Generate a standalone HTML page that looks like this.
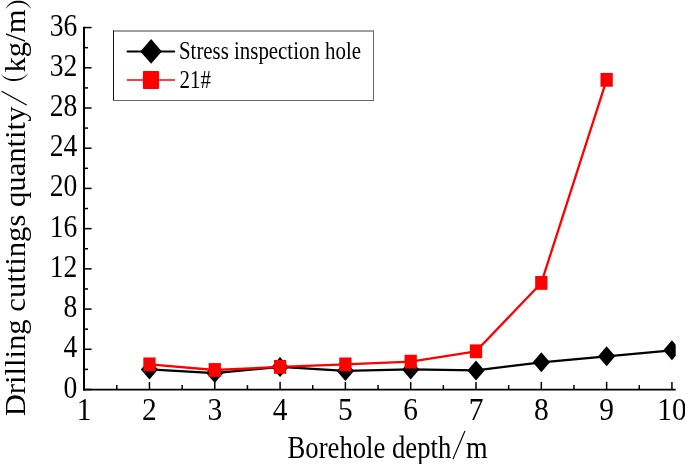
<!DOCTYPE html>
<html><head><meta charset="utf-8"><style>
html,body{margin:0;padding:0;background:#fff;overflow:hidden}
svg{display:block;will-change:transform}
</style></head><body>
<svg width="685" height="464" viewBox="0 0 685 464">
<rect width="685" height="464" fill="#fff"/>
<line x1="84.0" y1="26.76" x2="84.0" y2="390.45" stroke="#000" stroke-width="2"/>
<line x1="83.0" y1="389.65" x2="675.7" y2="389.65" stroke="#000" stroke-width="1.6"/>
<line x1="84.15" y1="389.65" x2="84.15" y2="381.90" stroke="#000" stroke-width="1.5"/>
<line x1="149.46" y1="389.65" x2="149.46" y2="381.90" stroke="#000" stroke-width="1.5"/>
<line x1="214.77" y1="389.65" x2="214.77" y2="381.90" stroke="#000" stroke-width="1.5"/>
<line x1="280.08" y1="389.65" x2="280.08" y2="381.90" stroke="#000" stroke-width="1.5"/>
<line x1="345.39" y1="389.65" x2="345.39" y2="381.90" stroke="#000" stroke-width="1.5"/>
<line x1="410.70" y1="389.65" x2="410.70" y2="381.90" stroke="#000" stroke-width="1.5"/>
<line x1="476.01" y1="389.65" x2="476.01" y2="381.90" stroke="#000" stroke-width="1.5"/>
<line x1="541.32" y1="389.65" x2="541.32" y2="381.90" stroke="#000" stroke-width="1.5"/>
<line x1="606.63" y1="389.65" x2="606.63" y2="381.90" stroke="#000" stroke-width="1.5"/>
<line x1="671.94" y1="389.65" x2="671.94" y2="381.90" stroke="#000" stroke-width="1.5"/>
<line x1="116.81" y1="389.65" x2="116.81" y2="385.10" stroke="#000" stroke-width="1.5"/>
<line x1="182.12" y1="389.65" x2="182.12" y2="385.10" stroke="#000" stroke-width="1.5"/>
<line x1="247.43" y1="389.65" x2="247.43" y2="385.10" stroke="#000" stroke-width="1.5"/>
<line x1="312.74" y1="389.65" x2="312.74" y2="385.10" stroke="#000" stroke-width="1.5"/>
<line x1="378.04" y1="389.65" x2="378.04" y2="385.10" stroke="#000" stroke-width="1.5"/>
<line x1="443.36" y1="389.65" x2="443.36" y2="385.10" stroke="#000" stroke-width="1.5"/>
<line x1="508.66" y1="389.65" x2="508.66" y2="385.10" stroke="#000" stroke-width="1.5"/>
<line x1="573.98" y1="389.65" x2="573.98" y2="385.10" stroke="#000" stroke-width="1.5"/>
<line x1="639.28" y1="389.65" x2="639.28" y2="385.10" stroke="#000" stroke-width="1.5"/>
<line x1="84.0" y1="389.50" x2="91.60" y2="389.50" stroke="#000" stroke-width="1.5"/>
<line x1="84.0" y1="349.28" x2="91.60" y2="349.28" stroke="#000" stroke-width="1.5"/>
<line x1="84.0" y1="309.07" x2="91.60" y2="309.07" stroke="#000" stroke-width="1.5"/>
<line x1="84.0" y1="268.85" x2="91.60" y2="268.85" stroke="#000" stroke-width="1.5"/>
<line x1="84.0" y1="228.64" x2="91.60" y2="228.64" stroke="#000" stroke-width="1.5"/>
<line x1="84.0" y1="188.42" x2="91.60" y2="188.42" stroke="#000" stroke-width="1.5"/>
<line x1="84.0" y1="148.20" x2="91.60" y2="148.20" stroke="#000" stroke-width="1.5"/>
<line x1="84.0" y1="107.99" x2="91.60" y2="107.99" stroke="#000" stroke-width="1.5"/>
<line x1="84.0" y1="67.77" x2="91.60" y2="67.77" stroke="#000" stroke-width="1.5"/>
<line x1="84.0" y1="27.56" x2="91.60" y2="27.56" stroke="#000" stroke-width="1.5"/>
<line x1="84.0" y1="369.39" x2="88.00" y2="369.39" stroke="#000" stroke-width="1.5"/>
<line x1="84.0" y1="329.18" x2="88.00" y2="329.18" stroke="#000" stroke-width="1.5"/>
<line x1="84.0" y1="288.96" x2="88.00" y2="288.96" stroke="#000" stroke-width="1.5"/>
<line x1="84.0" y1="248.74" x2="88.00" y2="248.74" stroke="#000" stroke-width="1.5"/>
<line x1="84.0" y1="208.53" x2="88.00" y2="208.53" stroke="#000" stroke-width="1.5"/>
<line x1="84.0" y1="168.31" x2="88.00" y2="168.31" stroke="#000" stroke-width="1.5"/>
<line x1="84.0" y1="128.10" x2="88.00" y2="128.10" stroke="#000" stroke-width="1.5"/>
<line x1="84.0" y1="87.88" x2="88.00" y2="87.88" stroke="#000" stroke-width="1.5"/>
<line x1="84.0" y1="47.66" x2="88.00" y2="47.66" stroke="#000" stroke-width="1.5"/>
<defs><clipPath id="pc"><rect x="80" y="0" width="595.7" height="395"/></clipPath></defs>
<g clip-path="url(#pc)">
<polyline points="149.46,369.39 214.77,373.11 280.08,366.88 345.39,370.90 410.70,369.39 476.01,370.40 541.32,362.35 606.63,356.32 671.94,350.29" fill="none" stroke="#000" stroke-width="2.2" stroke-linejoin="round"/>
<path d="M149.46 359.39L158.06 369.39L149.46 379.39L140.86 369.39Z" fill="#000"/>
<path d="M214.77 363.11L223.37 373.11L214.77 383.11L206.17 373.11Z" fill="#000"/>
<path d="M280.08 356.88L288.68 366.88L280.08 376.88L271.48 366.88Z" fill="#000"/>
<path d="M345.39 360.90L353.99 370.90L345.39 380.90L336.79 370.90Z" fill="#000"/>
<path d="M410.70 359.39L419.30 369.39L410.70 379.39L402.10 369.39Z" fill="#000"/>
<path d="M476.01 360.40L484.61 370.40L476.01 380.40L467.41 370.40Z" fill="#000"/>
<path d="M541.32 352.35L549.92 362.35L541.32 372.35L532.72 362.35Z" fill="#000"/>
<path d="M606.63 346.32L615.23 356.32L606.63 366.32L598.03 356.32Z" fill="#000"/>
<path d="M671.94 340.29L680.54 350.29L671.94 360.29L663.34 350.29Z" fill="#000"/>
<polyline points="149.46,364.37 214.77,370.00 280.08,366.88 345.39,364.37 410.70,361.65 476.01,351.29 541.32,282.93 606.63,79.84" fill="none" stroke="#f00" stroke-width="2.3" stroke-linejoin="round"/>
<rect x="143.31" y="357.47" width="12.30" height="13.80" fill="#f00"/>
<rect x="208.62" y="363.10" width="12.30" height="13.80" fill="#f00"/>
<rect x="273.93" y="359.98" width="12.30" height="13.80" fill="#f00"/>
<rect x="339.24" y="357.47" width="12.30" height="13.80" fill="#f00"/>
<rect x="404.55" y="354.75" width="12.30" height="13.80" fill="#f00"/>
<rect x="469.86" y="344.39" width="12.30" height="13.80" fill="#f00"/>
<rect x="535.17" y="276.03" width="12.30" height="13.80" fill="#f00"/>
<rect x="600.48" y="72.94" width="12.30" height="13.80" fill="#f00"/>
</g>
<line x1="113.5" y1="30.5" x2="113.5" y2="100.5" stroke="#111" stroke-width="1"/>
<line x1="113" y1="31" x2="373.5" y2="31" stroke="#000" stroke-width="1" opacity="0.75"/>
<line x1="373.5" y1="30.5" x2="373.5" y2="101" stroke="#666" stroke-width="1"/>
<line x1="113" y1="100.5" x2="374" y2="100.5" stroke="#666" stroke-width="1"/>
<line x1="127.5" y1="51.4" x2="174.2" y2="51.4" stroke="#000" stroke-width="2" stroke-linecap="round"/>
<path d="M151.1 39.099999999999994L161.79999999999998 51.4L151.1 63.7L140.4 51.4Z" fill="#000"/>
<line x1="127.3" y1="80" x2="174.4" y2="80" stroke="#f00" stroke-width="1.6" stroke-linecap="round"/>
<rect x="142.9" y="71.1" width="16.2" height="17.8" rx="1" fill="#f00"/>
<text transform="translate(179 58.8) scale(0.849 1)" style="font-family:'Liberation Serif',serif;font-size:24.6px">Stress inspection hole</text>
<text transform="translate(179.6 87.5) scale(0.849 1)" style="font-family:'Liberation Serif',serif;font-size:24.6px">21#</text>
<text transform="translate(77.2 397.50) scale(0.875 1)" text-anchor="end" style="font-family:'Liberation Serif',serif;font-size:31.5px">0</text>
<text transform="translate(77.2 357.28) scale(0.875 1)" text-anchor="end" style="font-family:'Liberation Serif',serif;font-size:31.5px">4</text>
<text transform="translate(77.2 317.07) scale(0.875 1)" text-anchor="end" style="font-family:'Liberation Serif',serif;font-size:31.5px">8</text>
<text transform="translate(77.2 276.85) scale(0.875 1)" text-anchor="end" style="font-family:'Liberation Serif',serif;font-size:31.5px">12</text>
<text transform="translate(77.2 236.64) scale(0.875 1)" text-anchor="end" style="font-family:'Liberation Serif',serif;font-size:31.5px">16</text>
<text transform="translate(77.2 196.42) scale(0.875 1)" text-anchor="end" style="font-family:'Liberation Serif',serif;font-size:31.5px">20</text>
<text transform="translate(77.2 156.20) scale(0.875 1)" text-anchor="end" style="font-family:'Liberation Serif',serif;font-size:31.5px">24</text>
<text transform="translate(77.2 115.99) scale(0.875 1)" text-anchor="end" style="font-family:'Liberation Serif',serif;font-size:31.5px">28</text>
<text transform="translate(77.2 75.77) scale(0.875 1)" text-anchor="end" style="font-family:'Liberation Serif',serif;font-size:31.5px">32</text>
<text transform="translate(77.2 35.56) scale(0.875 1)" text-anchor="end" style="font-family:'Liberation Serif',serif;font-size:31.5px">36</text>
<text transform="translate(84.15 420) scale(0.95 1)" text-anchor="middle" style="font-family:'Liberation Serif',serif;font-size:31px">1</text>
<text transform="translate(149.46 420) scale(0.95 1)" text-anchor="middle" style="font-family:'Liberation Serif',serif;font-size:31px">2</text>
<text transform="translate(214.77 420) scale(0.95 1)" text-anchor="middle" style="font-family:'Liberation Serif',serif;font-size:31px">3</text>
<text transform="translate(280.08 420) scale(0.95 1)" text-anchor="middle" style="font-family:'Liberation Serif',serif;font-size:31px">4</text>
<text transform="translate(345.39 420) scale(0.95 1)" text-anchor="middle" style="font-family:'Liberation Serif',serif;font-size:31px">5</text>
<text transform="translate(410.70 420) scale(0.95 1)" text-anchor="middle" style="font-family:'Liberation Serif',serif;font-size:31px">6</text>
<text transform="translate(476.01 420) scale(0.95 1)" text-anchor="middle" style="font-family:'Liberation Serif',serif;font-size:31px">7</text>
<text transform="translate(541.32 420) scale(0.95 1)" text-anchor="middle" style="font-family:'Liberation Serif',serif;font-size:31px">8</text>
<text transform="translate(606.63 420) scale(0.95 1)" text-anchor="middle" style="font-family:'Liberation Serif',serif;font-size:31px">9</text>
<text transform="translate(671.94 420) scale(0.95 1)" text-anchor="middle" style="font-family:'Liberation Serif',serif;font-size:31px">10</text>
<text transform="translate(287.5 457.9) scale(0.8215 1)" style="font-family:'Liberation Serif',serif;font-size:32.5px">Borehole depth</text>
<text transform="translate(465.9 457.9) scale(0.857 1)" style="font-family:'Liberation Serif',serif;font-size:32.5px">m</text>
<line x1="452.9" y1="459.2" x2="464.9" y2="431.1" stroke="#000" stroke-width="1.15"/>
<g transform="translate(25 415.3) rotate(-90)">
<text transform="translate(-1.06 0) scale(1.057 1)" style="font-family:'Liberation Serif',serif;font-size:29px">Drilling cuttings quantity</text>
<line x1="310.3" y1="1.7" x2="324" y2="-23.4" stroke="#000" stroke-width="1.3"/>
<text transform="translate(342.84 0) scale(1.057 1)" style="font-family:'Liberation Serif',serif;font-size:29px">kg/m</text>
</g>
<path d="M0.6 73.8 C4.5 79.8 9.5 81.0 14.4 81.0 C19.3 81.0 24.3 79.6 28.3 73.1 L27.7 73.5 C24 78 19.3 79.1 14.4 79.1 C9.5 79.1 5 78.3 1.2 74.2Z" fill="#000"/>
<path d="M5.8 8.6 C9.5 2.0 13.5 0.8 18.4 0.8 C23.3 0.8 27.3 2.0 31.0 8.6 L30.4 8.2 C27 3.5 23 2.7 18.4 2.7 C13.8 2.7 9.8 3.5 6.4 8.2Z" fill="#000"/>
</svg>
</body></html>
